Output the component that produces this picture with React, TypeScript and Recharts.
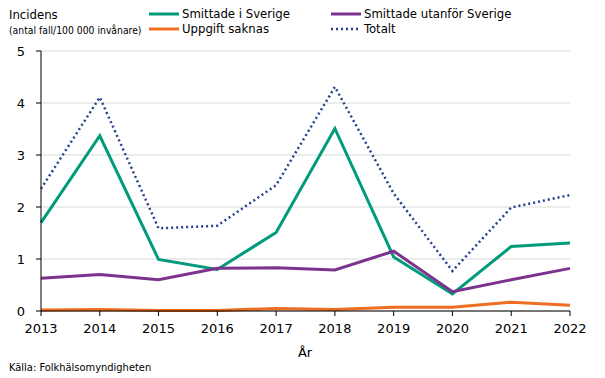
import React from "react";
import {
  LineChart,
  Line,
  XAxis,
  YAxis,
  CartesianGrid,
} from "recharts";

const years = ["2013", "2014", "2015", "2016", "2017", "2018", "2019", "2020", "2021", "2022"];
const smittadeSverige = [1.7, 3.37, 0.99, 0.8, 1.51, 3.51, 1.04, 0.33, 1.24, 1.31];
const smittadeUtanfor = [0.63, 0.7, 0.6, 0.82, 0.83, 0.79, 1.15, 0.37, 0.6, 0.82];
const uppgiftSaknas = [0.02, 0.03, 0.01, 0.01, 0.05, 0.03, 0.07, 0.07, 0.17, 0.11];
const totalt = [2.35, 4.11, 1.59, 1.64, 2.42, 4.31, 2.26, 0.77, 1.99, 2.23];
const yTicks = [0, 1, 2, 3, 4, 5];

const data = years.map((year, i) => ({
  year,
  sverige: smittadeSverige[i],
  utanfor: smittadeUtanfor[i],
  saknas: uppgiftSaknas[i],
  totalt: totalt[i],
}));

const FONT = "Tahoma, 'DejaVu Sans Condensed', 'DejaVu Sans', sans-serif";
const TICK_FONT = "Verdana, 'DejaVu Sans', sans-serif";

const colors = {
  sverige: "#009b7b",
  utanfor: "#7b338e",
  saknas: "#ee6e22",
  totalt: "#253f8e",
};

const legendItems = [
  { label: "Smittade i Sverige", color: colors.sverige, dotted: false, x: 148, y: 6 },
  { label: "Smittade utanför Sverige", color: colors.utanfor, dotted: false, x: 330, y: 6 },
  { label: "Uppgift saknas", color: colors.saknas, dotted: false, x: 148, y: 21 },
  { label: "Totalt", color: colors.totalt, dotted: true, x: 330, y: 21 },
];

function ChartLegend() {
  return (
    <div style={{ position: "absolute", left: 0, top: 0, width: 605, height: 40, fontFamily: FONT }}>
      {legendItems.map((item) => (
        <div
          key={item.label}
          style={{
            position: "absolute",
            left: item.x,
            top: item.y,
            display: "flex",
            alignItems: "center",
            fontSize: 13,
            color: "#000",
            lineHeight: "15px",
          }}
        >
          <svg width={32} height={6} style={{ marginRight: 2 }}>
            <line
              x1={1}
              y1={3}
              x2={31}
              y2={3}
              stroke={item.color}
              strokeWidth={item.dotted ? 2.5 : 3}
              strokeDasharray={item.dotted ? "2 3" : undefined}
            />
          </svg>
          <span>{item.label}</span>
        </div>
      ))}
    </div>
  );
}

export default function App() {
  return (
    <div style={{ position: "absolute", left: 0, top: 0, width: 605, height: 378, background: "#fff" }}>
      <LineChart
        width={605}
        height={378}
        data={data}
        margin={{ top: 51, right: 35, left: 8, bottom: 37 }}
      >
        <CartesianGrid vertical={false} stroke="#d9d9d9" />
        <XAxis
          dataKey="year"
          stroke="#000"
          tickLine={{ stroke: "#000" }}
          tickSize={5}
          tickMargin={8}
          tick={{ fill: "#000", fontSize: 13, fontFamily: TICK_FONT }}
          interval={0}
          height={30}
        />
        <YAxis
          domain={[0, 5]}
          ticks={yTicks}
          width={33}
          stroke="#000"
          tickSize={5}
          tickMargin={11}
          tick={{ fill: "#000", fontSize: 13, fontFamily: TICK_FONT }}
          axisLine={{ stroke: "#000" }}
        />
        <Line
          dataKey="totalt"
          stroke={colors.totalt}
          strokeWidth={2.5}
          strokeDasharray="2 3"
          dot={false}
          isAnimationActive={false}
          type="linear"
        />
        <Line
          dataKey="saknas"
          stroke={colors.saknas}
          strokeWidth={3}
          dot={false}
          isAnimationActive={false}
          type="linear"
        />
        <Line
          dataKey="sverige"
          stroke={colors.sverige}
          strokeWidth={3}
          dot={false}
          isAnimationActive={false}
          type="linear"
        />
        <Line
          dataKey="utanfor"
          stroke={colors.utanfor}
          strokeWidth={3}
          dot={false}
          isAnimationActive={false}
          type="linear"
        />
        <text x={9} y={19} fontSize={13} fontFamily={FONT} fill="#000">
          Incidens
        </text>
        <text x={9} y={34} fontSize={10.3} fontFamily={FONT} fill="#000">
          (antal fall/100 000 invånare)
        </text>
        <text x={305} y={357} fontSize={13} fontFamily={TICK_FONT} fill="#000" textAnchor="middle">
          År
        </text>
        <text x={9} y={371} fontSize={11} fontFamily={FONT} fill="#000">
          Källa: Folkhälsomyndigheten
        </text>
      </LineChart>
      <ChartLegend />
    </div>
  );
}
